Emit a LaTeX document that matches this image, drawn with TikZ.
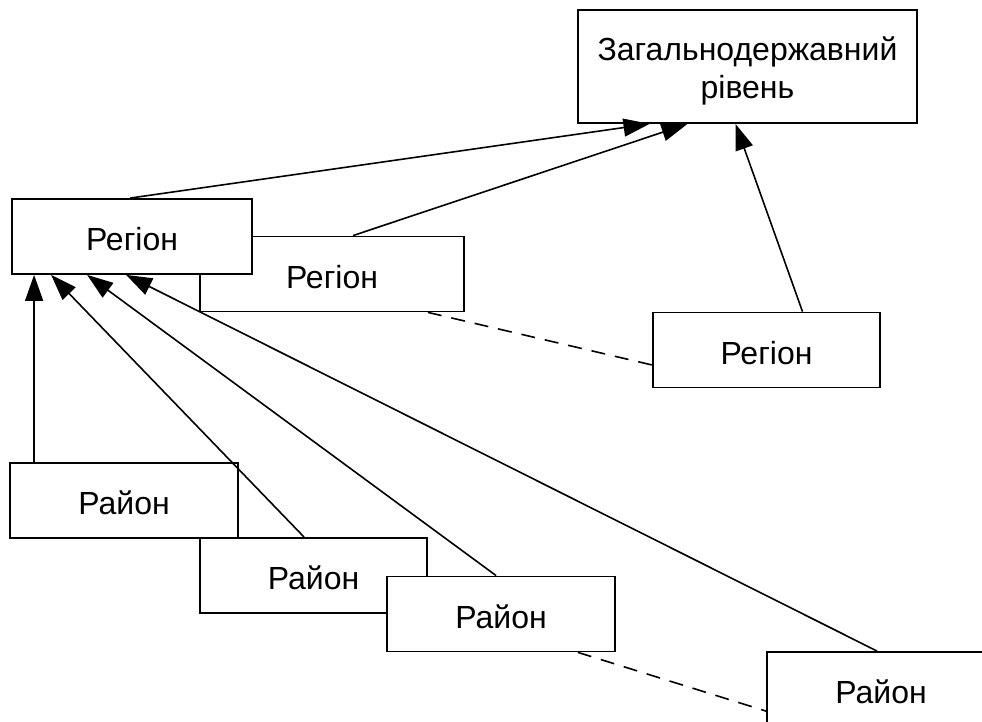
\documentclass[tikz,border=0pt]{standalone}
\usepackage{fontspec}
\setmainfont{Liberation Sans}
\usetikzlibrary{arrows.meta}

\tikzset{
  levelbox/.style={draw, line width=0.9pt, fill=white, minimum height=37.5pt,
    inner sep=0pt, align=center, text height=14.4pt, text depth=0pt,
    font=\fontsize{16pt}{19pt}\selectfont},
  uplink/.style={line width=0.8pt, -{Triangle[length=13pt, width=9pt]}},
  sidelink/.style={line width=0.8pt, dash pattern=on 7pt off 5pt},
}

\begin{document}
\begin{tikzpicture}[x=0.5pt, y=-0.5pt]
      \useasboundingbox (0,0) rectangle (982,722);
      %
      \node[levelbox, minimum width=169.5pt, minimum height=56.5pt, text height=32pt]
        (state) at (747.5,66.5) {Загальнодержавний\\рівень};   % top level
      %
      \node[levelbox, minimum width=132pt] (reg2) at (332,274) {Регіон};
      \node[levelbox, minimum width=120pt] (reg1) at (132,236.5) {Регіон};
      \node[levelbox, minimum width=113.5pt] (reg3) at (766.5,350) {Регіон};
      %
      \node[levelbox, minimum width=114pt] (dist1) at (124,500.5) {Район};
      \node[levelbox, minimum width=113.5pt] (dist2) at (313.5,575.5) {Район};
      \node[levelbox, minimum width=114pt] (dist3) at (501,614) {Район};
      \node[levelbox, minimum width=114pt] (dist4) at (881,689.5) {Район};
      %
      \draw[uplink] ([xshift=-1pt]reg1.north) -- ([xshift=-49pt]state.south);
      \draw[uplink] ([xshift=10.5pt]reg2.north) -- ([xshift=-30pt]state.south);
      \draw[uplink] ([xshift=18pt]reg3.north) -- ([xshift=-6pt]state.south);
      %
      \draw[uplink] ([xshift=12.5pt]dist1.north west) -- ([xshift=11.5pt]reg1.south west);
      \draw[uplink] ([xshift=52.5pt]dist2.north west) -- ([xshift=20pt]reg1.south west);
      \draw[uplink] ([xshift=55pt]dist3.north west) -- ([xshift=38pt]reg1.south west);
      \draw[uplink] ([xshift=55.5pt]dist4.north west) -- ([xshift=57.5pt]reg1.south west);
      %
      \draw[sidelink] ([xshift=-18.5pt]reg2.south east) -- ([yshift=-7.5pt]reg3.west);
      \draw[sidelink] ([xshift=-19pt]dist3.south east) -- ([yshift=-30pt]dist4.north west);
      %
    \end{tikzpicture}
\end{document}
